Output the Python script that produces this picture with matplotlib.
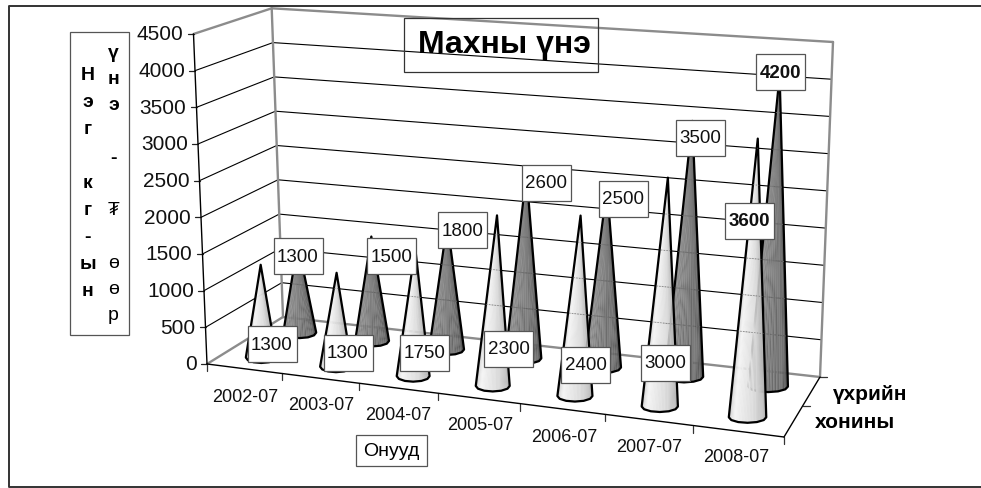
import numpy as np
import matplotlib
matplotlib.use("Agg")
import matplotlib.pyplot as plt
from matplotlib.patches import Polygon, Rectangle
from matplotlib.collections import PolyCollection

FONT = ["Liberation Sans", "DejaVu Sans"]
plt.rcParams["font.family"] = FONT

# --- data ---
categories = ["2002-07", "2003-07", "2004-07", "2005-07", "2006-07", "2007-07", "2008-07"]
sheep = [1300, 1300, 1750, 2300, 2400, 3000, 3600]
cattle = [1300, 1500, 1800, 2600, 2500, 3500, 4200]
y_ticks = [0, 500, 1000, 1500, 2000, 2500, 3000, 3500, 4000, 4500]
series_names = ["хонины", "үхрийн"]
chart_title = "Махны үнэ"
x_title = "Онууд"
y_title_left = "Нэг кг-ын"
y_title_right = "үнэ - ₮ өөр"

# --- layout, all in image pixels ---
Y_MAX = 4500
FLOOR = [(207, 365), (784, 438), (820, 378), (283, 318)]
CEIL = [(193.5, 35), (797, 74), (833, 43), (271.7, 9.3)]
# the cones lean less than the left wall does
CONE_CEIL = [(205, 41), (797, 80), (833, 49), (271.7, 15.3)]
DEPTH = {"sheep": 0.22, "cattle": 0.74}
RADIUS = {"sheep": 0.030, "cattle": 0.033}
RIM_H = 5.5
GREY = "#8c8c8c"

sheep_label_xy = [(272, 345), (348, 354), (424.5, 354), (508.5, 350), (585.5, 366), (665.5, 363.5), (749.5, 221.5)]
cattle_label_xy = [(298, 257), (391.5, 257), (462.5, 231), (546, 183.5), (623, 200), (700, 138.5), (780, 73)]
cat_label_xy = [(245.5, 397), (321, 406), (398.5, 416), (480, 425), (564.5, 437), (649, 448), (736, 458)]


def homography(dst):
    src = [(0, 0), (1, 0), (1, 1), (0, 1)]
    A, b = [], []
    for (u, d), (x, y) in zip(src, dst):
        A.append([u, d, 1, 0, 0, 0, -u * x, -d * x])
        A.append([0, 0, 0, u, d, 1, -u * y, -d * y])
        b += [x, y]
    return np.append(np.linalg.solve(np.array(A, float), np.array(b, float)), 1).reshape(3, 3)


H_FLOOR = homography(FLOOR)
H_CEIL = homography(CEIL)
H_CONE = homography(CONE_CEIL)


def project(u, d, value=0, ceil=H_CEIL):
    """Category position u, depth d and a value -> image pixels."""
    u = u + 0.028 * u * (1 - u)  # ticks are spaced a little more evenly than pure perspective
    out = []
    for H in (H_FLOOR, ceil):
        p = H @ np.array([u, d, 1.0])
        out.append(p[:2] / p[2])
    return out[0] + (out[1] - out[0]) * value / Y_MAX


def seg(ax, p, q, color="black", lw=0.8, z=1):
    ax.plot([p[0], q[0]], [p[1], q[1]], color=color, lw=lw, zorder=z, solid_capstyle="round")


def draw_walls(ax):
    # gridlines on the left wall and the back wall
    for v in y_ticks[1:-1]:
        seg(ax, project(0, 0, v), project(0, 1, v))
        seg(ax, project(0, 1, v), project(1, 1, v))
    grey_edges = [((0, 1, 0), (0, 1, Y_MAX)), ((1, 1, 0), (1, 1, Y_MAX)),
                  ((0, 0, Y_MAX), (0, 1, Y_MAX)), ((0, 1, Y_MAX), (1, 1, Y_MAX)),
                  ((0, 0, 0), (0, 1, 0)), ((0, 1, 0), (1, 1, 0))]
    for a, b in grey_edges:
        seg(ax, project(*a), project(*b), color=GREY, lw=1.7)
    seg(ax, project(0, 0, 0), project(0, 0, Y_MAX), lw=1.0, z=2)
    seg(ax, project(0, 0, 0), project(1, 0, 0), lw=1.0, z=2)
    seg(ax, project(1, 0, 0), project(1, 1, 0), lw=1.0, z=2)

    # ticks and tick labels
    for v in y_ticks:
        p = project(0, 0, v)
        seg(ax, p, p + (-6, 0), color="#222222", lw=0.9)
        ax.text(p[0] - 10, p[1], str(v), ha="right", va="center", fontsize=15, color="#111111")
    for i in range(len(categories) + 1):
        p = project(i / len(categories), 0, 0)
        seg(ax, p, p + (0, 7), color="#333333", lw=0.9)
    for d in (0.5, 1):
        p = project(1, d, 0)
        seg(ax, p, p + (7, 0), color="#333333", lw=0.9)
    for name, (x, y) in zip(categories, cat_label_xy):
        ax.text(x, y, name, ha="center", va="center", fontsize=13, color="#111111")


def draw_cone(ax, i, value, series, stops, stripes):
    u = (i + 0.5) / len(categories)
    depth, r = DEPTH[series], RADIUS[series]
    tip = project(u, depth, value, H_CONE)
    c = project(u, depth)
    w = (project(u + r, depth)[0] - project(u - r, depth)[0]) / 2
    # flat, level base with cut corners
    t = np.linspace(np.pi, 0, 7)
    rim = np.column_stack([c[0] + w * np.cos(t), c[1] + RIM_H * np.sin(t)])

    # fan of thin slices from the tip, shaded across the cone
    n = 36
    s = np.linspace(0, 1, n + 1)
    k = np.linspace(0, 1, len(rim))
    xs, ys = np.interp(s, k, rim[:, 0]), np.interp(s, k, rim[:, 1])
    polys, colors = [], []
    for j in range(n):
        polys.append([tip, (xs[j], ys[j]), (xs[j + 1], ys[j + 1])])
        g = np.interp((j + 0.5) / n, stops[0], stops[1]) + (stripes if j % 2 else -stripes)
        colors.append((g, g, g))
    ax.add_collection(PolyCollection(polys, facecolors=colors, edgecolors=colors, linewidths=0.2, zorder=3))

    outline = Polygon(np.vstack([tip, rim]), closed=True, fc="none", ec="black", lw=1.6, joinstyle="round", zorder=3)
    ax.add_patch(outline)

    # the gridlines show faintly through the cones
    for v in y_ticks[1:-1]:
        a, b = project(0, 1, v), project(1, 1, v)
        line, = ax.plot([a[0], b[0]], [a[1], b[1]], color="#777777", lw=0.5, ls=(0, (2, 2)), zorder=3)
        line.set_clip_path(outline)


def draw_boxes(ax):
    for values, xys, bold_from in ((sheep, sheep_label_xy, 3600), (cattle, cattle_label_xy, 4200)):
        for v, (x, y) in zip(values, xys):
            ax.add_patch(Rectangle((x - 24.5, y - 18), 49, 36, fc="white", ec="#555555", lw=0.9, zorder=5))
            ax.text(x, y, str(v), ha="center", va="center", fontsize=13.5, color="#111111", zorder=6,
                    fontweight="bold" if v >= bold_from else "normal")


def draw_titles(ax):
    ax.add_patch(Rectangle((403.5, 19), 194, 54, fc="none", ec="#333333", lw=0.9, zorder=5))
    ax.text(504.5, 45, chart_title, ha="center", va="center", fontsize=23, fontweight="bold", zorder=6)

    ax.add_patch(Rectangle((70, 33), 59, 303, fc="white", ec="#555555", lw=0.9))
    for ch, y in zip(y_title_left, 76 + 26.9 * np.arange(len(y_title_left))):
        ax.text(87.5, y, ch, ha="center", va="center", fontsize=14, fontweight="bold")
    for j, (ch, y) in enumerate(zip(y_title_right, 53 + 26.3 * np.arange(len(y_title_right)))):
        ax.text(113.5, y, ch, ha="center", va="center", fontsize=14, fontweight="bold" if j < 5 else "normal")

    ax.add_patch(Rectangle((356, 436), 71, 31, fc="white", ec="#555555", lw=0.9, zorder=5))
    ax.text(391.5, 452, x_title, ha="center", va="center", fontsize=14, zorder=6)

    ax.text(815, 423, series_names[0], ha="left", va="center", fontsize=15, fontweight="bold")
    ax.text(833, 395, series_names[1], ha="left", va="center", fontsize=15, fontweight="bold")


def main():
    fig = plt.figure(figsize=(9.81, 4.89), dpi=100)
    ax = fig.add_axes([0, 0, 1, 1])
    ax.set_xlim(0, 981)
    ax.set_ylim(489, 0)
    ax.axis("off")

    # chart frame: the right side runs off the image
    ax.plot([981, 8.5, 8.5, 981], [6.5, 6.5, 487.5, 487.5], color="#333333", lw=1.4)

    draw_walls(ax)
    dark = ([0, 0.3, 0.75, 1], [0.58, 0.52, 0.42, 0.28])
    light = ([0, 0.25, 0.6, 1], [0.72, 0.96, 0.86, 0.66])
    for i, v in enumerate(cattle):
        draw_cone(ax, i, v, "cattle", dark, 0.035)
    for i, v in enumerate(sheep):
        draw_cone(ax, i, v, "sheep", light, 0.0)
    draw_boxes(ax)
    draw_titles(ax)

    fig.savefig("out.png", dpi=100)
    plt.close(fig)


if __name__ == "__main__":
    main()
